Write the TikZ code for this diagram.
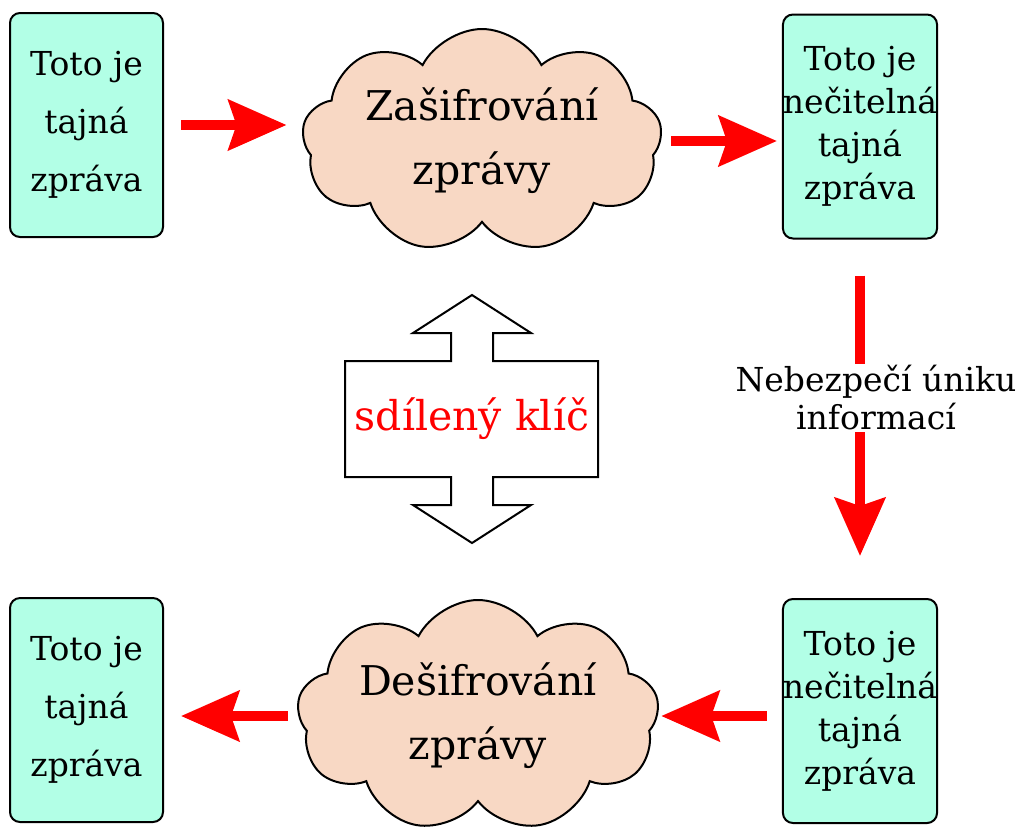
\documentclass[tikz,border=0pt]{standalone}
\usepackage{fontspec}
\setmainfont{DejaVu Serif}
\usetikzlibrary{shapes.symbols,arrows.meta}
\definecolor{msgbox}{HTML}{B2FFE6}
\definecolor{cloudfill}{HTML}{F8D8C4}
\begin{document}
\begin{tikzpicture}[x=0.5pt, y=-0.5pt,
		zprava/.style={draw, line width=1pt, rounded corners=5pt, fill=msgbox, minimum width=76.5pt, minimum height=112pt, align=center, inner sep=0pt},
		mrak/.style={cloud, cloud puffs=9, cloud puff arc=125, cloud ignores aspect, draw, line width=1pt, fill=cloudfill, minimum width=180pt, minimum height=112pt, align=center, inner sep=0pt, font=\fontsize{20.5}{32}\selectfont},
		sipka/.style={red, line width=5pt, -{Stealth[length=29pt, width=25pt, inset=4pt]}}]
	\useasboundingbox (0,0) rectangle (1021,837);
	\node[zprava, font=\fontsize{16.5}{29}\selectfont] (tl) at (86.5,125) {Toto je\\tajná\\zpráva};
	\node[zprava, font=\fontsize{16.5}{21.5}\selectfont] (tr) at (860,126.5) {Toto je\\nečitelná\\tajná\\zpráva};
	\node[zprava, font=\fontsize{16.5}{21.5}\selectfont] (br) at (860,711) {Toto je\\nečitelná\\tajná\\zpráva};
	\node[zprava, font=\fontsize{16.5}{29}\selectfont] (bl) at (86.5,710) {Toto je\\tajná\\zpráva};
	\node[mrak] (zas) at (482,141) {Zašifrování\\zprávy};
	\node[mrak, minimum width=181pt, minimum height=116pt] (des) at (478,716) {Dešifrování\\zprávy};
	\draw[sipka, shorten <=8.5pt, shorten >=8pt] (tl.east) -- (tl.east -| zas.west);
	\draw[sipka, shorten <=5pt, shorten >=2.5pt] (zas.east) -- (zas.east -| tr.west);
	\draw[sipka, shorten <=7.5pt, shorten >=1.5pt] (br.west |- des.east) -- (des.east);
	\draw[sipka, shorten <=5pt, shorten >=8.5pt] (des.west) -- (des.west -| bl.east);
	\draw[sipka, shorten <=18pt, shorten >=21pt] (tr.south) -- (br.north);
	\node[fill=white, inner sep=1pt, align=center, font=\fontsize{16.5}{19}\selectfont] (unik) at (876,398) {Nebezpečí úniku\\informací};
	\draw[line width=1pt, fill=white] (472,295) -- (531,333) -- (493,333) -- (493,361) -- (598,361) -- (598,477) -- (493,477) -- (493,505) -- (531,505) -- (472,543) -- (413,505) -- (451,505) -- (451,477) -- (345,477) -- (345,361) -- (451,361) -- (451,333) -- (413,333) -- cycle;
	\node[red, font=\fontsize{20.5}{24}\selectfont] (klic) at (472,419) {sdílený klíč};
\end{tikzpicture}
\end{document}
